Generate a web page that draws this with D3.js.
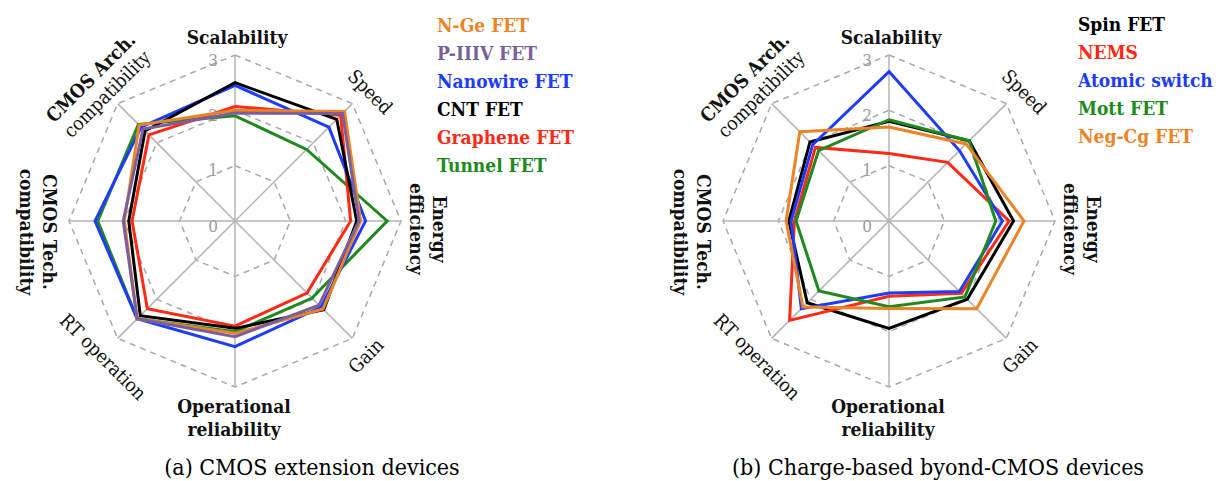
<!DOCTYPE html>
<html>
<head>
<meta charset="utf-8">
<script src="https://cdn.jsdelivr.net/npm/d3@7"></script>
<style>
  body { margin: 0; background: #fff; }
</style>
</head>
<body>
<svg width="1222" height="481"></svg>
<script>
// axes, clockwise from the top
const axes = ["Scalability", "Speed", "Energy efficiency", "Gain",
  "Operational reliability", "RT operation", "CMOS Tech. compatibility", "CMOS Arch. compatibility"];
const ticks = [0, 1, 2, 3];

// (a) CMOS extension devices
const namesA = ["N-Ge FET", "P-IIIV FET", "Nanowire FET", "CNT FET", "Graphene FET", "Tunnel FET"];
const nGe      = [2.0, 2.8, 2.27, 2.25, 2.03, 2.5, 2.0, 2.45];
const pIIIV    = [1.95, 2.75, 2.24, 2.15, 2.09, 2.5, 2.02, 2.35];
const nanowire = [2.45, 2.4, 2.36, 2.2, 2.27, 2.5, 2.53, 2.4];
const cnt      = [2.5, 2.6, 2.2, 2.27, 1.94, 2.42, 1.92, 2.3];
const graphene = [2.07, 2.7, 2.09, 1.84, 1.9, 2.24, 1.86, 2.2];
const tunnel   = [1.9, 1.83, 2.75, 1.97, 2.0, 2.5, 2.48, 2.47];

// (b) Charge-based beyond-CMOS devices
const namesB = ["Spin FET", "NEMS", "Atomic switch", "Mott FET", "Neg-Cg FET"];
const spin   = [1.8, 2.05, 2.25, 2.0, 1.94, 2.09, 1.81, 2.02];
const nems   = [1.22, 1.5, 2.17, 1.85, 1.36, 2.54, 1.71, 1.88];
const atomic = [2.7, 1.8, 2.05, 1.8, 1.3, 2.24, 1.77, 1.95];
const mott   = [1.83, 2.05, 1.93, 1.94, 1.55, 1.79, 1.68, 1.8];
const negCg  = [1.7, 1.97, 2.44, 2.24, 1.58, 2.2, 1.86, 2.28];

const captionA = "(a) CMOS extension devices";
const captionB = "(b) Charge-based byond-CMOS devices";

const col = {
  orange: "#ea8427", purple: "#7b5f9c", blue: "#1d3cff",
  black: "#000", red: "#ff2a16", green: "#1e8a1e"
};

const FONT = "'DejaVu Serif Condensed', 'DejaVu Serif'";
const svg = d3.select("svg");
const R = 166;
const r = d3.scaleLinear().domain([0, 3]).range([0, R]);
const angle = d3.scaleLinear().domain([0, axes.length]).range([0, 2 * Math.PI]);

// label placement relative to the chart centre
const labelLayout = [
  { dx: 2,    dy: -182, rot: 0,   lines: ["Scalability"], bold: [true] },
  { dx: 134,  dy: -128, rot: 45,  lines: ["Speed"], bold: [false] },
  { dx: 191,  dy: 8,    rot: 90,  lines: ["Energy", "efficiency"], bold: [true, true] },
  { dx: 132,  dy: 136,  rot: -45, lines: ["Gain"], bold: [false] },
  { dx: -1,   dy: 198,  rot: 0,   lines: ["Operational", "reliability"], bold: [true, true] },
  { dx: -133, dy: 137,  rot: 45,  lines: ["RT operation"], bold: [false] },
  { dx: -199, dy: 11,   rot: 90,  lines: ["CMOS Tech.", "compatibility"], bold: [true, true] },
  { dx: -135, dy: -134, rot: -45, lines: ["CMOS Arch.", "compatibility"], bold: [true, false] }
];

function drawRadar(cx, cy, series, names, colors, drawOrder, legendX, legendY, caption, captionX) {
  const g = svg.append("g").attr("transform", `translate(${cx},${cy})`);

  const ring = d3.lineRadial()
    .angle((d, i) => angle(i))
    .radius(d => r(d))
    .curve(d3.curveLinearClosed);

  // dashed rings
  g.selectAll(".ring")
    .data(ticks.filter(t => t > 0))
    .enter().append("path")
    .attr("d", t => ring(axes.map(() => t)))
    .attr("fill", "none")
    .attr("stroke", "#a8a8a8")
    .attr("stroke-width", 1.5)
    .attr("stroke-dasharray", "6,5");

  // spokes
  g.selectAll(".spoke")
    .data(axes)
    .enter().append("line")
    .attr("x1", 0).attr("y1", 0)
    .attr("x2", (d, i) => r(3) * Math.sin(angle(i)))
    .attr("y2", (d, i) => -r(3) * Math.cos(angle(i)))
    .attr("stroke", "#b4b4b4")
    .attr("stroke-width", 1.5);

  // tick labels
  g.selectAll(".tick")
    .data(ticks)
    .enter().append("text")
    .attr("x", -22)
    .attr("y", t => -r(t) + 6)
    .attr("text-anchor", "middle")
    .attr("dominant-baseline", "middle")
    .style("font-family", FONT)
    .attr("fill", "#9a9a9a")
    .style("font-size", "17px")
    .text(t => t);

  // series
  drawOrder.forEach(k => {
    g.append("path")
      .attr("d", ring(series[k]))
      .attr("fill", "none")
      .attr("stroke", colors[k])
      .attr("stroke-width", 3)
      .attr("stroke-linejoin", "miter");
  });

  // axis labels
  labelLayout.forEach((L, i) => {
    const t = g.append("text")
      .attr("transform", `translate(${L.dx},${L.dy}) rotate(${L.rot})`)
      .attr("text-anchor", "middle")
      .style("font-family", FONT)
      .style("font-size", "19px")
      .attr("fill", "#111");
    const lh = 23;
    const y0 = -(L.lines.length - 1) * lh / 2;
    L.lines.forEach((s, j) => {
      t.append("tspan")
        .attr("x", 0)
        .attr("y", y0 + j * lh)
        .attr("dominant-baseline", "middle")
        .style("font-weight", L.bold[j] ? "bold" : "normal")
        .text(s);
    });
  });

  // legend
  svg.selectAll(null)
    .data(names)
    .enter().append("text")
    .attr("x", legendX)
    .attr("y", (d, i) => legendY + i * 28)
    .attr("fill", (d, i) => colors[i])
    .style("font-family", FONT)
    .style("font-size", "19px")
    .style("font-weight", "bold")
    .text(d => d);

  svg.append("text")
    .attr("x", captionX)
    .attr("y", 475)
    .attr("text-anchor", "middle")
    .style("font-family", FONT)
    .style("font-size", "23px")
    .text(caption);
}

drawRadar(235, 221,
  [nGe, pIIIV, nanowire, cnt, graphene, tunnel], namesA,
  [col.orange, col.purple, col.blue, col.black, col.red, col.green],
  [5, 4, 2, 3, 0, 1], 437, 32, captionA, 312);

drawRadar(889, 221,
  [spin, nems, atomic, mott, negCg], namesB,
  [col.black, col.red, col.blue, col.green, col.orange],
  [0, 1, 2, 3, 4], 1078, 31, captionB, 938);
</script>
</body>
</html>
